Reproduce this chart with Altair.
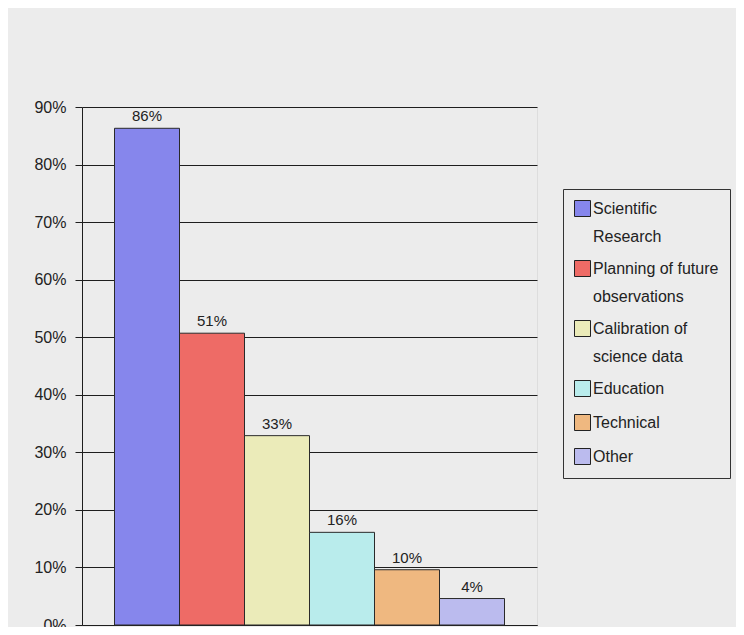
import altair as alt
import pandas as pd

# ---- data ----
categories = [
    "Scientific|Research",
    "Planning of future|observations",
    "Calibration of|science data",
    "Education",
    "Technical",
    "Other",
]
shares = [0.863, 0.507, 0.329, 0.161, 0.096, 0.046]
bar_labels = ["86%", "51%", "33%", "16%", "10%", "4%"]
colors = ["#8686ec", "#ee6b66", "#ebebb9", "#b9ecec", "#efb880", "#bbbbee"]
y_ticks = [0, 0.1, 0.2, 0.3, 0.4, 0.5, 0.6, 0.7, 0.8, 0.9]

df = pd.DataFrame({"category": categories, "share": shares, "label": bar_labels})

FONT = "Liberation Sans"
INK = "#1e1e1e"

x_enc = alt.X(
    "category:N",
    sort=categories,
    scale=alt.Scale(paddingInner=0, paddingOuter=0.5),
    axis=alt.Axis(labels=False, ticks=False, title=None, domainColor=INK, domainWidth=1),
)
y_enc = alt.Y(
    "share:Q",
    scale=alt.Scale(domain=[0, 0.9], nice=False),
    axis=alt.Axis(
        values=y_ticks,
        format=".0%",
        title=None,
        grid=True,
        gridColor=INK,
        gridWidth=1,
        gridOpacity=1,
        tickSize=7,
        tickColor=INK,
        domainColor=INK,
        labelPadding=9,
        labelFont=FONT,
        labelFontSize=16,
        labelColor="#222222",
    ),
)

bars = alt.Chart(df).mark_bar(stroke="#2a2a2a", strokeWidth=1).encode(
    x=x_enc,
    y=y_enc,
    color=alt.Color(
        "category:N",
        sort=categories,
        scale=alt.Scale(domain=categories, range=colors),
        legend=alt.Legend(
            title=None,
            orient="none",
            legendX=481,
            legendY=82,
            strokeColor="#333333",
            padding=11,
            rowPadding=13,
            symbolType="square",
            symbolSize=256,
            symbolStrokeColor="#222222",
            symbolStrokeWidth=1,
            symbolOpacity=1,
            labelExpr="split(datum.label, '|')",
            labelFont=FONT,
            labelFontSize=16,
            labelColor="#222222",
            labelOffset=2,
            labelLimit=400,
        ),
    ),
)

text = alt.Chart(df).mark_text(
    baseline="alphabetic", dy=-7, font=FONT, fontSize=15, color="#222222"
).encode(x=alt.X("category:N", sort=categories), y="share:Q", text="label:N")

chart = (
    alt.layer(bars, text)
    .properties(
        width=455,
        height=518,
        padding={"left": 74, "top": 99, "right": 199, "bottom": 2},
        autosize=alt.AutoSizeParams(type="none"),
        background="#ececec",
    )
    .configure_view(stroke=None)
    .configure(style={"guide-label": {"lineHeight": 28}})
)

chart.save("out.html", embed_options={"renderer": "svg", "actions": False})
